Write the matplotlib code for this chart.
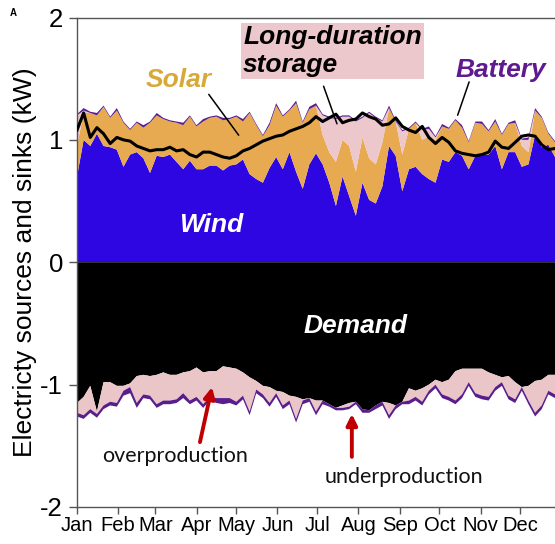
import numpy as np
import matplotlib
matplotlib.use("Agg")
import matplotlib.pyplot as plt

# ---------------- data (5-day samples) ----------------
days = np.arange(0, 361, 5)

wind = np.array([
    0.70, 1.00, 0.95, 1.05, 0.95, 0.94, 0.92, 0.78, 0.88, 0.90,
    0.85, 0.73, 0.87, 0.86, 0.88, 0.82, 0.76, 0.83, 0.76, 0.76,
    0.79, 0.79, 0.75, 0.79, 0.80, 0.84, 0.72, 0.68, 0.65, 0.77,
    0.86, 0.76, 0.90, 0.74, 0.60, 0.80, 0.89, 0.80, 0.65, 0.46,
    0.70, 0.54, 0.38, 0.65, 0.51, 0.48, 0.62, 0.95, 0.87, 0.58,
    0.76, 0.78, 0.72, 0.68, 0.65, 0.84, 0.82, 0.90, 0.87, 0.76,
    0.87, 0.88, 0.88, 0.95, 0.76, 0.90, 0.90, 0.78, 0.80, 1.04,
    0.94, 0.96, 0.86])

solar = np.array([
    0.25, 0.22, 0.27, 0.15, 0.32, 0.24, 0.32, 0.36, 0.20, 0.24,
    0.25, 0.41, 0.33, 0.31, 0.27, 0.32, 0.36, 0.36, 0.35, 0.39,
    0.39, 0.40, 0.41, 0.38, 0.39, 0.31, 0.50, 0.44, 0.38, 0.35,
    0.42, 0.43, 0.34, 0.56, 0.54, 0.45, 0.39, 0.24, 0.25, 0.36,
    0.30, 0.41, 0.36, 0.37, 0.34, 0.32, 0.36, 0.31, 0.28, 0.30,
    0.33, 0.36, 0.28, 0.35, 0.35, 0.27, 0.27, 0.26, 0.23, 0.22,
    0.27, 0.25, 0.19, 0.20, 0.28, 0.23, 0.24, 0.17, 0.10, 0.20,
    0.24, 0.09, 0.12])

storage = np.array([
    0.25, 0.02, 0.00, 0.00, 0.00, 0.00, 0.00, 0.00, 0.00, 0.00,
    0.00, 0.00, 0.00, 0.00, 0.00, 0.00, 0.00, 0.00, 0.00, 0.00,
    0.00, 0.00, 0.00, 0.00, 0.00, 0.00, 0.00, 0.00, 0.00, 0.00,
    0.00, 0.00, 0.00, 0.00, 0.00, 0.00, 0.00, 0.16, 0.28, 0.35,
    0.19, 0.24, 0.41, 0.16, 0.37, 0.38, 0.17, 0.00, 0.00, 0.19,
    0.00, 0.00, 0.08, 0.06, 0.02, 0.00, 0.00, 0.00, 0.00, 0.00,
    0.00, 0.00, 0.00, 0.00, 0.00, 0.00, 0.00, 0.05, 0.10, 0.00,
    0.00, 0.00, 0.00])

battery = np.array([
    0.01, 0.02, 0.01, 0.02, 0.01, 0.01, 0.02, 0.01, 0.01, 0.01,
    0.02, 0.01, 0.02, 0.01, 0.01, 0.01, 0.02, 0.01, 0.01, 0.02,
    0.01, 0.01, 0.02, 0.01, 0.01, 0.02, 0.01, 0.01, 0.01, 0.02,
    0.02, 0.01, 0.01, 0.02, 0.01, 0.02, 0.02, 0.01, 0.01, 0.01,
    0.01, 0.01, 0.01, 0.01, 0.01, 0.01, 0.01, 0.02, 0.01, 0.01,
    0.01, 0.01, 0.01, 0.02, 0.01, 0.02, 0.01, 0.01, 0.02, 0.01,
    0.01, 0.02, 0.01, 0.02, 0.01, 0.01, 0.02, 0.01, 0.02, 0.02,
    0.01, 0.01, 0.01])

demand_line = np.array([
    1.08, 1.22, 1.02, 1.10, 1.05, 0.97, 1.02, 1.00, 0.99, 0.95,
    0.93, 0.91, 0.92, 0.92, 0.94, 0.91, 0.92, 0.88, 0.86, 0.90,
    0.90, 0.88, 0.86, 0.85, 0.87, 0.91, 0.93, 0.96, 0.99, 1.01,
    1.03, 1.04, 1.07, 1.09, 1.11, 1.14, 1.19, 1.15, 1.18, 1.21,
    1.14, 1.16, 1.17, 1.22, 1.19, 1.17, 1.12, 1.13, 1.18, 1.11,
    1.08, 1.06, 1.11, 1.02, 0.97, 1.02, 0.98, 0.91, 0.89, 0.88,
    0.87, 0.88, 0.90, 0.99, 0.94, 0.93, 0.98, 1.03, 1.04, 1.03,
    0.96, 0.92, 0.93])

demand = np.array([
    1.15, 1.10, 1.01, 1.22, 0.98, 0.98, 1.01, 1.01, 0.99, 0.93,
    0.92, 0.93, 0.92, 0.90, 0.92, 0.92, 0.90, 0.89, 0.86, 0.90,
    0.89, 0.89, 0.85, 0.86, 0.87, 0.90, 0.94, 0.97, 1.01, 1.02,
    1.05, 1.06, 1.09, 1.10, 1.12, 1.11, 1.13, 1.13, 1.16, 1.19,
    1.17, 1.15, 1.14, 1.20, 1.21, 1.17, 1.14, 1.15, 1.17, 1.14,
    1.03, 1.05, 1.03, 1.00, 0.96, 0.98, 0.96, 0.89, 0.87, 0.87,
    0.87, 0.87, 0.90, 0.92, 0.94, 0.93, 0.98, 1.02, 1.01, 0.97,
    0.96, 0.92, 0.92])

sink_total = np.array([
    1.26, 1.28, 1.23, 1.27, 1.20, 1.17, 1.18, 1.09, 1.07, 1.19,
    1.11, 1.12, 1.19, 1.16, 1.16, 1.15, 1.11, 1.16, 1.13, 1.19,
    1.13, 1.15, 1.16, 1.15, 1.17, 1.12, 1.25, 1.07, 1.11, 1.18,
    1.10, 1.20, 1.16, 1.31, 1.16, 1.14, 1.25, 1.16, 1.18, 1.20,
    1.21, 1.20, 1.15, 1.23, 1.22, 1.19, 1.16, 1.28, 1.20, 1.15,
    1.16, 1.13, 1.17, 1.08, 1.03, 1.11, 1.13, 1.16, 1.11, 1.01,
    1.10, 1.12, 1.13, 1.05, 1.01, 1.12, 1.15, 1.04, 1.16, 1.26,
    1.20, 1.08, 1.11])

battery_charge = np.array([
    0.03, 0.03, 0.03, 0.03, 0.03, 0.03, 0.03, 0.04, 0.05, 0.04,
    0.03, 0.03, 0.03, 0.03, 0.03, 0.03, 0.04, 0.03, 0.03, 0.03,
    0.03, 0.04, 0.05, 0.04, 0.03, 0.03, 0.03, 0.03, 0.03, 0.03,
    0.03, 0.03, 0.03, 0.03, 0.03, 0.03, 0.03, 0.03, 0.02, 0.02,
    0.02, 0.02, 0.02, 0.03, 0.02, 0.03, 0.03, 0.03, 0.03, 0.02,
    0.03, 0.03, 0.03, 0.03, 0.03, 0.03, 0.03, 0.03, 0.03, 0.03,
    0.03, 0.03, 0.03, 0.03, 0.03, 0.03, 0.03, 0.03, 0.03, 0.03,
    0.03, 0.03, 0.03])

overproduction = np.clip(sink_total - demand - battery_charge, 0, None)

month_days = [0, 31, 59, 90, 120, 151, 181, 212, 243, 273, 304, 334]
month_labels = ["Jan", "Feb", "Mar", "Apr", "May", "Jun",
                "Jul", "Aug", "Sep", "Oct", "Nov", "Dec"]
y_ticks = [-2, -1, 0, 1, 2]
y_tick_labels = ["-2", "-1", "0", "1", "2"]

# ---------------- style ----------------
C_WIND = "#2e06e2"
C_SOLAR = "#e8aa50"
C_STORAGE = "#ecc7cb"
C_BATTERY = "#5a1d8c"
C_DEMAND = "#000000"
C_OVER = "#ebc6c8"
C_ARROW = "#c00000"

plt.rcParams["font.family"] = ["Liberation Sans", "DejaVu Sans"]

fig = plt.figure(figsize=(5.55, 5.44), dpi=100)
ax = fig.add_axes([77 / 555, 37 / 544, 1 - 77 / 555, 489.5 / 544])

ax.stackplot(days, wind, solar, storage, battery,
             colors=[C_WIND, C_SOLAR, C_STORAGE, C_BATTERY], linewidth=0)
ax.stackplot(days, -demand, -overproduction, -battery_charge,
             colors=[C_DEMAND, C_OVER, C_BATTERY], linewidth=0)
ax.plot(days, demand_line, color="black", lw=2.2, zorder=5)

ax.set_xlim(0, 360)
ax.set_ylim(-2, 2)
ax.set_xticks(month_days)
ax.set_xticklabels(month_labels, fontsize=14.5)
ax.set_yticks(y_ticks)
ax.set_yticklabels(y_tick_labels, fontsize=18.5)
ax.tick_params(axis="x", direction="out", length=5, width=1, color="#555555", pad=1.5)
ax.tick_params(axis="y", direction="out", length=6, width=1, color="#555555", pad=4)
for side in ["top", "left", "bottom"]:
    ax.spines[side].set_color("#555555")
    ax.spines[side].set_linewidth(1)
ax.spines["right"].set_visible(False)

ax.set_ylabel("Electricty sources and sinks (kW)", fontsize=19, labelpad=2)

bi = dict(fontweight="bold", fontstyle="italic", fontsize=19)
ax.text(101, 0.245, "Wind", color="white", ha="center", va="baseline", **bi)
ax.text(210, -0.58, "Demand", color="white", ha="center", va="baseline", **bi)
ax.text(76.5, 1.43, "Solar", color="#d8a937", ha="center", va="baseline", **bi)
ax.text(319.5, 1.51, "Battery", color="#5e1a8e", ha="center", va="baseline", **bi)
ax.text(192.4, 1.728, "Long-duration\nstorage", color="black", ha="center",
        va="center", multialignment="left",
        bbox=dict(boxstyle="square,pad=0.08", facecolor=C_STORAGE, edgecolor="none"),
        **bi)

# pointer lines
ax.annotate("", xy=(123, 1.02), xytext=(98, 1.39),
            arrowprops=dict(arrowstyle="-", color="black", lw=1.1))
ax.annotate("", xy=(196.5, 1.11), xytext=(185, 1.46),
            arrowprops=dict(arrowstyle="-", color="black", lw=1.1))
ax.annotate("", xy=(286, 1.18), xytext=(296, 1.495),
            arrowprops=dict(arrowstyle="-", color="black", lw=1.1))

# red arrows
ax.annotate("", xy=(101.7, -1.02), xytext=(92.6, -1.47),
            arrowprops=dict(arrowstyle="-|>", color=C_ARROW, lw=2.8,
                            mutation_scale=16, shrinkA=0, shrinkB=0))
ax.annotate("", xy=(207, -1.24), xytext=(207, -1.59),
            arrowprops=dict(arrowstyle="-|>", color=C_ARROW, lw=2.8,
                            mutation_scale=16, shrinkA=0, shrinkB=0))
ax.text(73.8, -1.634, "overproduction", fontsize=15.5, family=["Lato", "DejaVu Sans"],
        ha="center", va="baseline", color="#111111")
ax.text(245.9, -1.80, "underproduction", fontsize=15.5, family=["Lato", "DejaVu Sans"],
        ha="center", va="baseline", color="#111111")

fig.text(10 / 555, 1 - 13 / 544, "A", fontsize=7, fontweight="bold", ha="left", va="center")

fig.savefig("out.png", dpi=100)
